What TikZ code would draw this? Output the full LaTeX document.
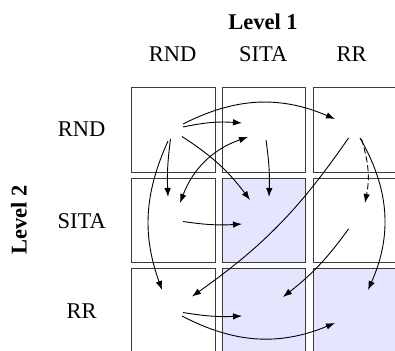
\documentclass[tikz,border=0pt]{standalone}
\usepackage{fontspec}
\setmainfont{Liberation Serif}
\usetikzlibrary{arrows.meta}
\definecolor{shade}{RGB}{229,229,255}
\definecolor{boxline}{RGB}{60,60,60}
\tikzset{
  cell/.style={draw=boxline, line width=1pt},
  shaded/.style={cell, fill=shade},
  lab/.style={anchor=base, inner sep=0pt, font=\fontsize{22.5}{27}\selectfont},
  title/.style={lab, font=\fontsize{22.5}{27}\selectfont\bfseries},
  arr/.style={-{Latex[length=9pt,width=6.5pt]}, line width=0.9pt},
  darr/.style={{Latex[length=9pt,width=6.5pt]}-{Latex[length=9pt,width=6.5pt]}, line width=0.9pt},
}
\begin{document}
\begin{tikzpicture}[x=1pt,y=-1pt]
\useasboundingbox (0,0) rectangle (395,350);
\clip (0,0) rectangle (395,350);
\fill[white] (0,0) rectangle (395,350);
% cells
\draw[cell]   (131.5,87.5) rectangle ++(83.5,84.5);
\draw[cell]   (222,87.5) rectangle ++(83.5,84.5);
\draw[cell]   (313,87.5) rectangle ++(83.5,84.5);
\draw[cell]   (131.5,178) rectangle ++(83.5,84.5);
\draw[shaded] (222,178) rectangle ++(83.5,84.5);
\draw[cell]   (313,178) rectangle ++(83.5,84.5);
\draw[cell]   (131.5,268.5) rectangle ++(83.5,84.5);
\draw[shaded] (222,268.5) rectangle ++(83.5,84.5);
\draw[shaded] (313,268.5) rectangle ++(83.5,84.5);
% labels
\node[title] (l1) at (263,30) {Level 1};
\node[lab] (c1) at (172.5,61.7) {RND};
\node[lab] (c2) at (263.3,61.7) {SITA};
\node[lab] (c3) at (351.7,61.7) {RR};
\node[lab] (r1) at (81.7,136.7) {RND};
\node[lab] (r2) at (81.7,228) {SITA};
\node[lab] (r3) at (81.7,318) {RR};
\node[title, rotate=90] (l2) at (26.5,220) {Level 2};
% endpoints
\coordinate (a1) at (183,127);
\coordinate (a2) at (183,124);
\coordinate (a3) at (182,136.5);
\coordinate (a4) at (170.5,139);
\coordinate (a5) at (168,141);
\coordinate (t1) at (242,123);
\coordinate (t2) at (335,119);
\coordinate (t3) at (250,200);
\coordinate (t4) at (168,197);
\coordinate (t5) at (162,290);
\coordinate (p1) at (180,203);
\coordinate (p2) at (248,137);
\coordinate (b1) at (266,140);
\coordinate (bt) at (269,197);
\coordinate (c1s) at (348.5,138);
\coordinate (c2s) at (361.5,139);
\coordinate (c3s) at (360,138);
\coordinate (ct1) at (192,296.5);
\coordinate (ct2) at (365,203);
\coordinate (ct3) at (368,290);
\coordinate (d1) at (183,221.5);
\coordinate (dt) at (242,224);
\coordinate (e1) at (348.5,229);
\coordinate (et) at (283,297);
\coordinate (f1) at (183,312.5);
\coordinate (f2) at (182,316);
\coordinate (ft1) at (242,316);
\coordinate (ft2) at (335,323);
% connectors
\draw[arr] (a1) to[bend left=8] (t1);
\draw[arr] (a2) to[bend left=25] (t2);
\draw[arr] (a3) to[bend left=10] (t3);
\draw[arr] (a4) to[bend right=5] (t4);
\draw[arr] (a5) to[bend right=22] (t5);
\draw[darr] (p1) to[bend left=25] (p2);
\draw[arr] (b1) to[bend left=5] (bt);
\draw[arr] (c1s) to[bend left=10] (ct1);
\draw[arr, dash pattern=on 6pt off 3pt] (c2s) to[bend left=14] (ct2);
\draw[arr] (c3s) to[bend left=27] (ct3);
\draw[arr] (d1) to[bend right=6] (dt);
\draw[arr] (e1) to[bend left=8] (et);
\draw[arr] (f1) to[bend right=6] (ft1);
\draw[arr] (f2) to[bend right=25] (ft2);
\end{tikzpicture}
\end{document}
